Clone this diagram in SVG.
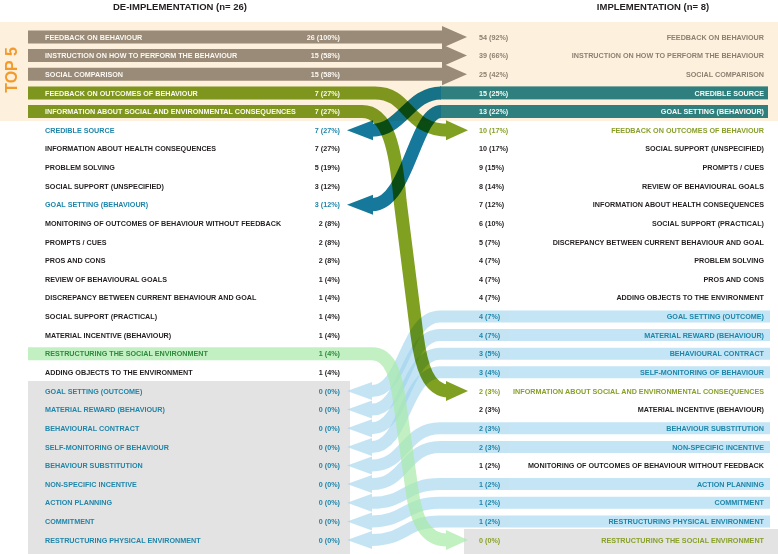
<svg xmlns="http://www.w3.org/2000/svg" width="778" height="554" viewBox="0 0 778 554">
<style>
.t{font-family:"Liberation Sans",Arial,sans-serif;font-weight:700;font-size:7.2px}
.h{font-family:"Liberation Sans",Arial,sans-serif;font-weight:700;font-size:9.5px;fill:#231f20;text-anchor:middle}
.top{font-family:"Liberation Sans",Arial,sans-serif;font-weight:700;font-size:16px;fill:#f39a2b;text-anchor:middle}
.e{text-anchor:end}
.w{fill:#fbf8f2}
.k{fill:#231f20}
.b{fill:#1f86aa}
.o{fill:#88a02a}
.g{fill:#8d8071}
.dg{fill:#2f8a3c}
.brown{fill:#9a8a78}
.lb{opacity:.6}
.lb path{fill:none;stroke:#9dd3ee;stroke-width:12}
.lb polygon{fill:#9dd3ee}
.lg{opacity:.7}
.lg path{fill:none;stroke:#a8eaa8;stroke-width:13}
.lg polygon{fill:#a8eaa8}
.gr{mix-blend-mode:multiply}
.gr path{fill:none;stroke:#80a022;stroke-width:13}
.gr polygon{fill:#80a022}
.tl{mix-blend-mode:multiply}
.tl path{fill:none;stroke:#16799b;stroke-width:13}
.tl polygon{fill:#16799b}
.tl rect{fill:#2e8792}
</style>
<rect width="778" height="554" fill="#ffffff"/>
<g id="backgrounds">
<rect x="0" y="22" width="778" height="99" fill="#fdf0dc"/>
<rect x="28" y="381" width="322" height="173" fill="#e3e3e3"/>
<rect x="464" y="529" width="314" height="25" fill="#e3e3e3"/>
</g>
<g id="headers">
<text class="h" x="180" y="9.5">DE-IMPLEMENTATION (n= 26)</text>
<text class="h" x="653" y="9.5">IMPLEMENTATION (n= 8)</text>
<text class="top" transform="translate(17,70) rotate(-90)">TOP 5</text>
</g>
<g id="connectors">
<g class="lb"><path d="M770 316.5H440C405 316.5 405 391 372 391"/><polygon points="372,382 347,391 372,400"/></g>
<g class="lb"><path d="M770 335.1H440C405 335.1 405 409.6 372 409.6"/><polygon points="372,400.6 347,409.6 372,418.6"/></g>
<g class="lb"><path d="M770 353.7H440C405 353.7 405 428.2 372 428.2"/><polygon points="372,419.2 347,428.2 372,437.2"/></g>
<g class="lb"><path d="M770 372.3H440C405 372.3 405 446.9 372 446.9"/><polygon points="372,437.9 347,446.9 372,455.9"/></g>
<g class="lb"><path d="M770 428.2H440C405 428.2 405 465.5 372 465.5"/><polygon points="372,456.5 347,465.5 372,474.5"/></g>
<g class="lb"><path d="M770 446.9H440C405 446.9 405 484.1 372 484.1"/><polygon points="372,475.1 347,484.1 372,493.1"/></g>
<g class="lb"><path d="M770 484.1H440C405 484.1 405 502.8 372 502.8"/><polygon points="372,493.8 347,502.8 372,511.8"/></g>
<g class="lb"><path d="M770 502.8H440C405 502.8 405 521.4 372 521.4"/><polygon points="372,512.4 347,521.4 372,530.4"/></g>
<g class="lb"><path d="M770 521.4H440C405 521.4 405 540 372 540"/><polygon points="372,531 347,540 372,549"/></g>
<g class="lg"><path d="M28 353.7H372C392 353.7 397 380 400 405L412 490C416 520 425 540 447 540"/><polygon points="446,530 468,540 446,550"/></g>
<polygon class="brown" points="28,30.5 442,30.5 442,26 467,37 442,48 442,43.5 28,43.5"/>
<polygon class="brown" points="28,49.1 442,49.1 442,44.6 467,55.6 442,66.6 442,62.1 28,62.1"/>
<polygon class="brown" points="28,67.8 442,67.8 442,63.3 467,74.3 442,85.3 442,80.8 28,80.8"/>
<g class="tl"><rect x="440" y="86.4" width="328" height="13"/><path d="M441 92.9C410 92.9 402 130.2 372 130.2"/><polygon points="373,120.2 347,130.2 373,140.2"/></g>
<g class="tl"><rect x="440" y="105" width="328" height="13"/><path d="M441 111.5C415 111.5 408 204.7 372 204.7"/><polygon points="373,194.7 347,204.7 373,214.7"/></g>
<g class="gr"><path d="M28 92.9H375C410 92.9 405 130.2 449 130.2"/><polygon points="446,120.2 468,130.2 446,140.2"/></g>
<g class="gr"><path d="M28 111.5H362C388 111.5 396 150 400 200L417 335C421 365 428 391 449 391"/><polygon points="446,381 468,391 446,401"/></g>
</g>
<g id="left-nodes" class="t">
<g id="L01"><text class="w" x="45" y="39.6">FEEDBACK ON BEHAVIOUR</text><text class="w e" x="340" y="39.6">26 (100%)</text></g>
<g id="L02"><text class="w" x="45" y="58.2">INSTRUCTION ON HOW TO PERFORM THE BEHAVIOUR</text><text class="w e" x="340" y="58.2">15 (58%)</text></g>
<g id="L03"><text class="w" x="45" y="76.9">SOCIAL COMPARISON</text><text class="w e" x="340" y="76.9">15 (58%)</text></g>
<g id="L04"><text class="w" x="45" y="95.5">FEEDBACK ON OUTCOMES OF BEHAVIOUR</text><text class="w e" x="340" y="95.5">7 (27%)</text></g>
<g id="L05"><text class="w" x="45" y="114.1">INFORMATION ABOUT SOCIAL AND ENVIRONMENTAL CONSEQUENCES</text><text class="w e" x="340" y="114.1">7 (27%)</text></g>
<g id="L06"><text class="b" x="45" y="132.8">CREDIBLE SOURCE</text><text class="b e" x="340" y="132.8">7 (27%)</text></g>
<g id="L07"><text class="k" x="45" y="151.4">INFORMATION ABOUT HEALTH CONSEQUENCES</text><text class="k e" x="340" y="151.4">7 (27%)</text></g>
<g id="L08"><text class="k" x="45" y="170">PROBLEM SOLVING</text><text class="k e" x="340" y="170">5 (19%)</text></g>
<g id="L09"><text class="k" x="45" y="188.6">SOCIAL SUPPORT (UNSPECIFIED)</text><text class="k e" x="340" y="188.6">3 (12%)</text></g>
<g id="L10"><text class="b" x="45" y="207.3">GOAL SETTING (BEHAVIOUR)</text><text class="b e" x="340" y="207.3">3 (12%)</text></g>
<g id="L11"><text class="k" x="45" y="225.9">MONITORING OF OUTCOMES OF BEHAVIOUR WITHOUT FEEDBACK</text><text class="k e" x="340" y="225.9">2 (8%)</text></g>
<g id="L12"><text class="k" x="45" y="244.5">PROMPTS / CUES</text><text class="k e" x="340" y="244.5">2 (8%)</text></g>
<g id="L13"><text class="k" x="45" y="263.2">PROS AND CONS</text><text class="k e" x="340" y="263.2">2 (8%)</text></g>
<g id="L14"><text class="k" x="45" y="281.8">REVIEW OF BEHAVIOURAL GOALS</text><text class="k e" x="340" y="281.8">1 (4%)</text></g>
<g id="L15"><text class="k" x="45" y="300.4">DISCREPANCY BETWEEN CURRENT BEHAVIOUR AND GOAL</text><text class="k e" x="340" y="300.4">1 (4%)</text></g>
<g id="L16"><text class="k" x="45" y="319.1">SOCIAL SUPPORT (PRACTICAL)</text><text class="k e" x="340" y="319.1">1 (4%)</text></g>
<g id="L17"><text class="k" x="45" y="337.7">MATERIAL INCENTIVE (BEHAVIOUR)</text><text class="k e" x="340" y="337.7">1 (4%)</text></g>
<g id="L18"><text class="dg" x="45" y="356.3">RESTRUCTURING THE SOCIAL ENVIRONMENT</text><text class="dg e" x="340" y="356.3">1 (4%)</text></g>
<g id="L19"><text class="k" x="45" y="374.9">ADDING OBJECTS TO THE ENVIRONMENT</text><text class="k e" x="340" y="374.9">1 (4%)</text></g>
<g id="L20"><text class="b" x="45" y="393.6">GOAL SETTING (OUTCOME)</text><text class="b e" x="340" y="393.6">0 (0%)</text></g>
<g id="L21"><text class="b" x="45" y="412.2">MATERIAL REWARD (BEHAVIOUR)</text><text class="b e" x="340" y="412.2">0 (0%)</text></g>
<g id="L22"><text class="b" x="45" y="430.8">BEHAVIOURAL CONTRACT</text><text class="b e" x="340" y="430.8">0 (0%)</text></g>
<g id="L23"><text class="b" x="45" y="449.5">SELF-MONITORING OF BEHAVIOUR</text><text class="b e" x="340" y="449.5">0 (0%)</text></g>
<g id="L24"><text class="b" x="45" y="468.1">BEHAVIOUR SUBSTITUTION</text><text class="b e" x="340" y="468.1">0 (0%)</text></g>
<g id="L25"><text class="b" x="45" y="486.7">NON-SPECIFIC INCENTIVE</text><text class="b e" x="340" y="486.7">0 (0%)</text></g>
<g id="L26"><text class="b" x="45" y="505.4">ACTION PLANNING</text><text class="b e" x="340" y="505.4">0 (0%)</text></g>
<g id="L27"><text class="b" x="45" y="524">COMMITMENT</text><text class="b e" x="340" y="524">0 (0%)</text></g>
<g id="L28"><text class="b" x="45" y="542.6">RESTRUCTURING PHYSICAL ENVIRONMENT</text><text class="b e" x="340" y="542.6">0 (0%)</text></g>
</g>
<g id="right-nodes" class="t">
<g id="R01"><text class="g" x="479" y="39.6">54 (92%)</text><text class="g e" x="764" y="39.6">FEEDBACK ON BEHAVIOUR</text></g>
<g id="R02"><text class="g" x="479" y="58.2">39 (66%)</text><text class="g e" x="764" y="58.2">INSTRUCTION ON HOW TO PERFORM THE BEHAVIOUR</text></g>
<g id="R03"><text class="g" x="479" y="76.9">25 (42%)</text><text class="g e" x="764" y="76.9">SOCIAL COMPARISON</text></g>
<g id="R04"><text class="w" x="479" y="95.5">15 (25%)</text><text class="w e" x="764" y="95.5">CREDIBLE SOURCE</text></g>
<g id="R05"><text class="w" x="479" y="114.1">13 (22%)</text><text class="w e" x="764" y="114.1">GOAL SETTING (BEHAVIOUR)</text></g>
<g id="R06"><text class="o" x="479" y="132.8">10 (17%)</text><text class="o e" x="764" y="132.8">FEEDBACK ON OUTCOMES OF BEHAVIOUR</text></g>
<g id="R07"><text class="k" x="479" y="151.4">10 (17%)</text><text class="k e" x="764" y="151.4">SOCIAL SUPPORT (UNSPECIFIED)</text></g>
<g id="R08"><text class="k" x="479" y="170">9 (15%)</text><text class="k e" x="764" y="170">PROMPTS / CUES</text></g>
<g id="R09"><text class="k" x="479" y="188.6">8 (14%)</text><text class="k e" x="764" y="188.6">REVIEW OF BEHAVIOURAL GOALS</text></g>
<g id="R10"><text class="k" x="479" y="207.3">7 (12%)</text><text class="k e" x="764" y="207.3">INFORMATION ABOUT HEALTH CONSEQUENCES</text></g>
<g id="R11"><text class="k" x="479" y="225.9">6 (10%)</text><text class="k e" x="764" y="225.9">SOCIAL SUPPORT (PRACTICAL)</text></g>
<g id="R12"><text class="k" x="479" y="244.5">5 (7%)</text><text class="k e" x="764" y="244.5">DISCREPANCY BETWEEN CURRENT BEHAVIOUR AND GOAL</text></g>
<g id="R13"><text class="k" x="479" y="263.2">4 (7%)</text><text class="k e" x="764" y="263.2">PROBLEM SOLVING</text></g>
<g id="R14"><text class="k" x="479" y="281.8">4 (7%)</text><text class="k e" x="764" y="281.8">PROS AND CONS</text></g>
<g id="R15"><text class="k" x="479" y="300.4">4 (7%)</text><text class="k e" x="764" y="300.4">ADDING OBJECTS TO THE ENVIRONMENT</text></g>
<g id="R16"><text class="b" x="479" y="319.1">4 (7%)</text><text class="b e" x="764" y="319.1">GOAL SETTING (OUTCOME)</text></g>
<g id="R17"><text class="b" x="479" y="337.7">4 (7%)</text><text class="b e" x="764" y="337.7">MATERIAL REWARD (BEHAVIOUR)</text></g>
<g id="R18"><text class="b" x="479" y="356.3">3 (5%)</text><text class="b e" x="764" y="356.3">BEHAVIOURAL CONTRACT</text></g>
<g id="R19"><text class="b" x="479" y="374.9">3 (4%)</text><text class="b e" x="764" y="374.9">SELF-MONITORING OF BEHAVIOUR</text></g>
<g id="R20"><text class="o" x="479" y="393.6">2 (3%)</text><text class="o e" x="764" y="393.6">INFORMATION ABOUT SOCIAL AND ENVIRONMENTAL CONSEQUENCES</text></g>
<g id="R21"><text class="k" x="479" y="412.2">2 (3%)</text><text class="k e" x="764" y="412.2">MATERIAL INCENTIVE (BEHAVIOUR)</text></g>
<g id="R22"><text class="b" x="479" y="430.8">2 (3%)</text><text class="b e" x="764" y="430.8">BEHAVIOUR SUBSTITUTION</text></g>
<g id="R23"><text class="b" x="479" y="449.5">2 (3%)</text><text class="b e" x="764" y="449.5">NON-SPECIFIC INCENTIVE</text></g>
<g id="R24"><text class="k" x="479" y="468.1">1 (2%)</text><text class="k e" x="764" y="468.1">MONITORING OF OUTCOMES OF BEHAVIOUR WITHOUT FEEDBACK</text></g>
<g id="R25"><text class="b" x="479" y="486.7">1 (2%)</text><text class="b e" x="764" y="486.7">ACTION PLANNING</text></g>
<g id="R26"><text class="b" x="479" y="505.4">1 (2%)</text><text class="b e" x="764" y="505.4">COMMITMENT</text></g>
<g id="R27"><text class="b" x="479" y="524">1 (2%)</text><text class="b e" x="764" y="524">RESTRUCTURING PHYSICAL ENVIRONMENT</text></g>
<g id="R28"><text class="o" x="479" y="542.6">0 (0%)</text><text class="o e" x="764" y="542.6">RESTRUCTURING THE SOCIAL ENVIRONMENT</text></g>
</g>
</svg>
